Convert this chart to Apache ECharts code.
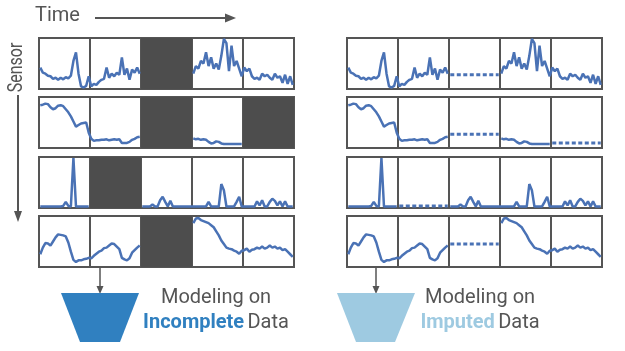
<!DOCTYPE html>
<html>
<head>
<meta charset="utf-8">
<script src="https://cdn.jsdelivr.net/npm/echarts@6/dist/echarts.min.js"></script>
<style>html,body{margin:0;padding:0;background:#fff;}#c{width:625px;height:351px;}</style>
</head>
<body>
<div id="c"></div>
<script>
// Sensor time series: 5 time windows per sensor, 20 samples each (null = missing window)
const sensor1 = [
  [0.42,0.32,0.30,0.26,0.25,0.20,0.22,0.18,0.22,0.19,0.23,0.21,0.26,0.55,0.72,0.30,0.05,0.03,0.06,0.25],
  [0.05,0.10,0.08,0.14,0.18,0.20,0.42,0.22,0.30,0.25,0.32,0.28,0.62,0.28,0.40,0.18,0.38,0.32,0.42,0.30],
  null,
  [0.30,0.45,0.40,0.55,0.50,0.72,0.45,0.62,0.40,0.50,0.38,0.65,0.98,0.90,0.35,0.85,0.45,0.55,0.40,0.25],
  [0.42,0.35,0.40,0.25,0.20,0.22,0.18,0.30,0.25,0.28,0.22,0.18,0.30,0.22,0.25,0.12,0.28,0.10,0.25,0.08]
];
const sensor2 = [
  [0.84,0.85,0.87,0.86,0.80,0.76,0.78,0.83,0.84,0.82,0.76,0.70,0.62,0.52,0.42,0.45,0.48,0.49,0.50,0.30],
  [0.18,0.14,0.15,0.15,0.16,0.16,0.17,0.15,0.16,0.17,0.16,0.17,0.10,0.10,0.10,0.12,0.16,0.18,0.21,0.22],
  null,
  [0.19,0.17,0.18,0.16,0.17,0.16,0.12,0.09,0.10,0.13,0.12,0.09,0.08,0.08,0.08,0.08,0.08,0.08,0.08,0.08],
  null
];
const sensor3 = [
  [0.03,0.03,0.03,0.03,0.03,0.03,0.03,0.03,0.03,0.04,0.12,0.04,0.03,0.98,0.03,0.03,0.03,0.03,0.03,0.03],
  null,
  [0.03,0.03,0.03,0.03,0.07,0.03,0.03,0.15,0.22,0.12,0.03,0.14,0.03,0.03,0.03,0.03,0.03,0.03,0.03,0.03],
  [0.03,0.03,0.03,0.03,0.03,0.03,0.12,0.03,0.03,0.03,0.03,0.47,0.35,0.03,0.03,0.03,0.03,0.12,0.22,0.03],
  [0.03,0.03,0.03,0.03,0.03,0.13,0.05,0.15,0.03,0.03,0.12,0.18,0.14,0.05,0.13,0.03,0.13,0.03,0.03,0.03]
];
const sensor4 = [
  [0.25,0.38,0.47,0.46,0.42,0.50,0.58,0.64,0.63,0.62,0.60,0.48,0.30,0.14,0.10,0.13,0.13,0.15,0.16,0.18],
  [0.17,0.22,0.26,0.30,0.32,0.37,0.38,0.42,0.46,0.45,0.40,0.35,0.18,0.15,0.13,0.17,0.28,0.33,0.38,0.42],
  null,
  [0.86,0.95,0.96,0.92,0.90,0.88,0.86,0.82,0.78,0.70,0.62,0.52,0.45,0.38,0.36,0.35,0.32,0.30,0.26,0.32],
  [0.33,0.36,0.30,0.34,0.35,0.38,0.36,0.40,0.36,0.38,0.42,0.38,0.40,0.36,0.38,0.33,0.35,0.30,0.25,0.20]
];
// Imputed constant values for missing windows
const imputed1 = [null, null, 0.28, null, null];
const imputed2 = [null, null, 0.27, null, 0.10];
const imputed3 = [null, 0.04, null, null, null];
const imputed4 = [null, null, 0.45, null, null];

const sensors = [sensor1, sensor2, sensor3, sensor4];
const imputed = [imputed1, imputed2, imputed3, imputed4];
const N = 20;

const BLUE = '#4a72b5', GRAY = '#555';
const rowTops = [38, 97, 157, 216];
const panelLefts = [39, 347];

const grid = [], xAxis = [], yAxis = [], series = [];
panelLefts.forEach((left, p) => {
  rowTops.forEach((top, r) => {
    const gi = grid.length;
    grid.push({left: left, top: top, width: 255, height: 51, show: true,
      borderColor: GRAY, borderWidth: 2, backgroundColor: '#fff', containLabel: false});
    xAxis.push({type: 'value', gridIndex: gi, min: 0, max: N * 5, interval: N,
      axisLine: {show: false}, axisTick: {show: false}, axisLabel: {show: false},
      splitLine: {show: true, lineStyle: {color: GRAY, width: 2}}});
    yAxis.push({type: 'value', gridIndex: gi, min: 0, max: 1,
      axisLine: {show: false}, axisTick: {show: false}, axisLabel: {show: false},
      splitLine: {show: false}});
    const data = [];
    const areas = [];
    const dash = [];
    sensors[r].forEach((cell, c) => {
      for (let i = 0; i < N; i++) {
        const x = c * N + i + 0.5;
        data.push([x, cell ? cell[i] : '-']);
        dash.push([x, (!cell && imputed[r][c] != null) ? imputed[r][c] : '-']);
      }
      if (!cell) areas.push([{xAxis: c * N}, {xAxis: (c + 1) * N}]);
    });
    series.push({type: 'line', xAxisIndex: gi, yAxisIndex: gi, data: data,
      showSymbol: false, symbol: 'none', silent: true, connectNulls: false,
      lineStyle: {color: BLUE, width: 2.5}, z: 3,
      markArea: p === 0 ? {silent: true, itemStyle: {color: '#4d4d4d', opacity: 1}, data: areas} : undefined});
    if (p === 1) {
      series.push({type: 'line', xAxisIndex: gi, yAxisIndex: gi, data: dash,
        showSymbol: false, symbol: 'none', silent: true, connectNulls: false,
        lineStyle: {color: BLUE, width: 3, type: [4, 2.5]}, z: 3});
    }
  });
});

const FONT = 'Roboto';
const graphic = [
  {type: 'text', left: 35, top: 6, style: {text: 'Time', font: '20px ' + FONT, fill: GRAY}},
  {type: 'line', shape: {x1: 95, y1: 18, x2: 227, y2: 18}, style: {stroke: GRAY, lineWidth: 2}},
  {type: 'polygon', shape: {points: [[225, 13.5], [236, 18], [225, 22.5]]}, style: {fill: GRAY}},
  {type: 'text', x: 7, y: 67.5, rotation: Math.PI / 2, scaleX: 0.8, style: {text: 'Sensor', font: '20px ' + FONT, fill: GRAY, align: 'center', verticalAlign: 'top'}},
  {type: 'line', shape: {x1: 18, y1: 95, x2: 18, y2: 214}, style: {stroke: GRAY, lineWidth: 2}},
  {type: 'polygon', shape: {points: [[14, 211], [18, 222], [22, 211]]}, style: {fill: GRAY}},
  {type: 'line', shape: {x1: 100, y1: 268, x2: 100, y2: 287}, style: {stroke: GRAY, lineWidth: 1.5}},
  {type: 'polygon', shape: {points: [[96.5, 286], [100, 294], [103.5, 286]]}, style: {fill: GRAY}},
  {type: 'line', shape: {x1: 376, y1: 268, x2: 376, y2: 287}, style: {stroke: GRAY, lineWidth: 1.5}},
  {type: 'polygon', shape: {points: [[372.5, 286], [376, 294], [379.5, 286]]}, style: {fill: GRAY}},
  {type: 'polygon', shape: {points: [[61, 293], [139, 293], [120, 342], [80, 342]]}, style: {fill: '#3080c0'}},
  {type: 'polygon', shape: {points: [[337, 293], [415, 293], [395, 342], [356, 342]]}, style: {fill: '#9ecae1'}},
  {type: 'text', x: 216, y: 298, style: {text: 'Modeling on', font: '20px ' + FONT, fill: GRAY, align: 'center', verticalAlign: 'middle'}},
  {type: 'text', x: 216, y: 323, style: {text: '{b|Incomplete} {n|Data}', align: 'center', verticalAlign: 'middle',
    rich: {b: {fontFamily: FONT, fontSize: 20, fontWeight: 'bold', fill: '#3080c0'}, n: {fontFamily: FONT, fontSize: 20, fill: GRAY}}}},
  {type: 'text', x: 480, y: 298, style: {text: 'Modeling on', font: '20px ' + FONT, fill: GRAY, align: 'center', verticalAlign: 'middle'}},
  {type: 'text', x: 480, y: 323, style: {text: '{b|Imputed} {n|Data}', align: 'center', verticalAlign: 'middle',
    rich: {b: {fontFamily: FONT, fontSize: 20, fontWeight: 'bold', fill: '#9ecae1'}, n: {fontFamily: FONT, fontSize: 20, fill: GRAY}}}}
];

const chart = echarts.init(document.getElementById('c'), null, {renderer: 'canvas'});
chart.setOption({animation: false, grid, xAxis, yAxis, series, graphic});
</script>
</body>
</html>
